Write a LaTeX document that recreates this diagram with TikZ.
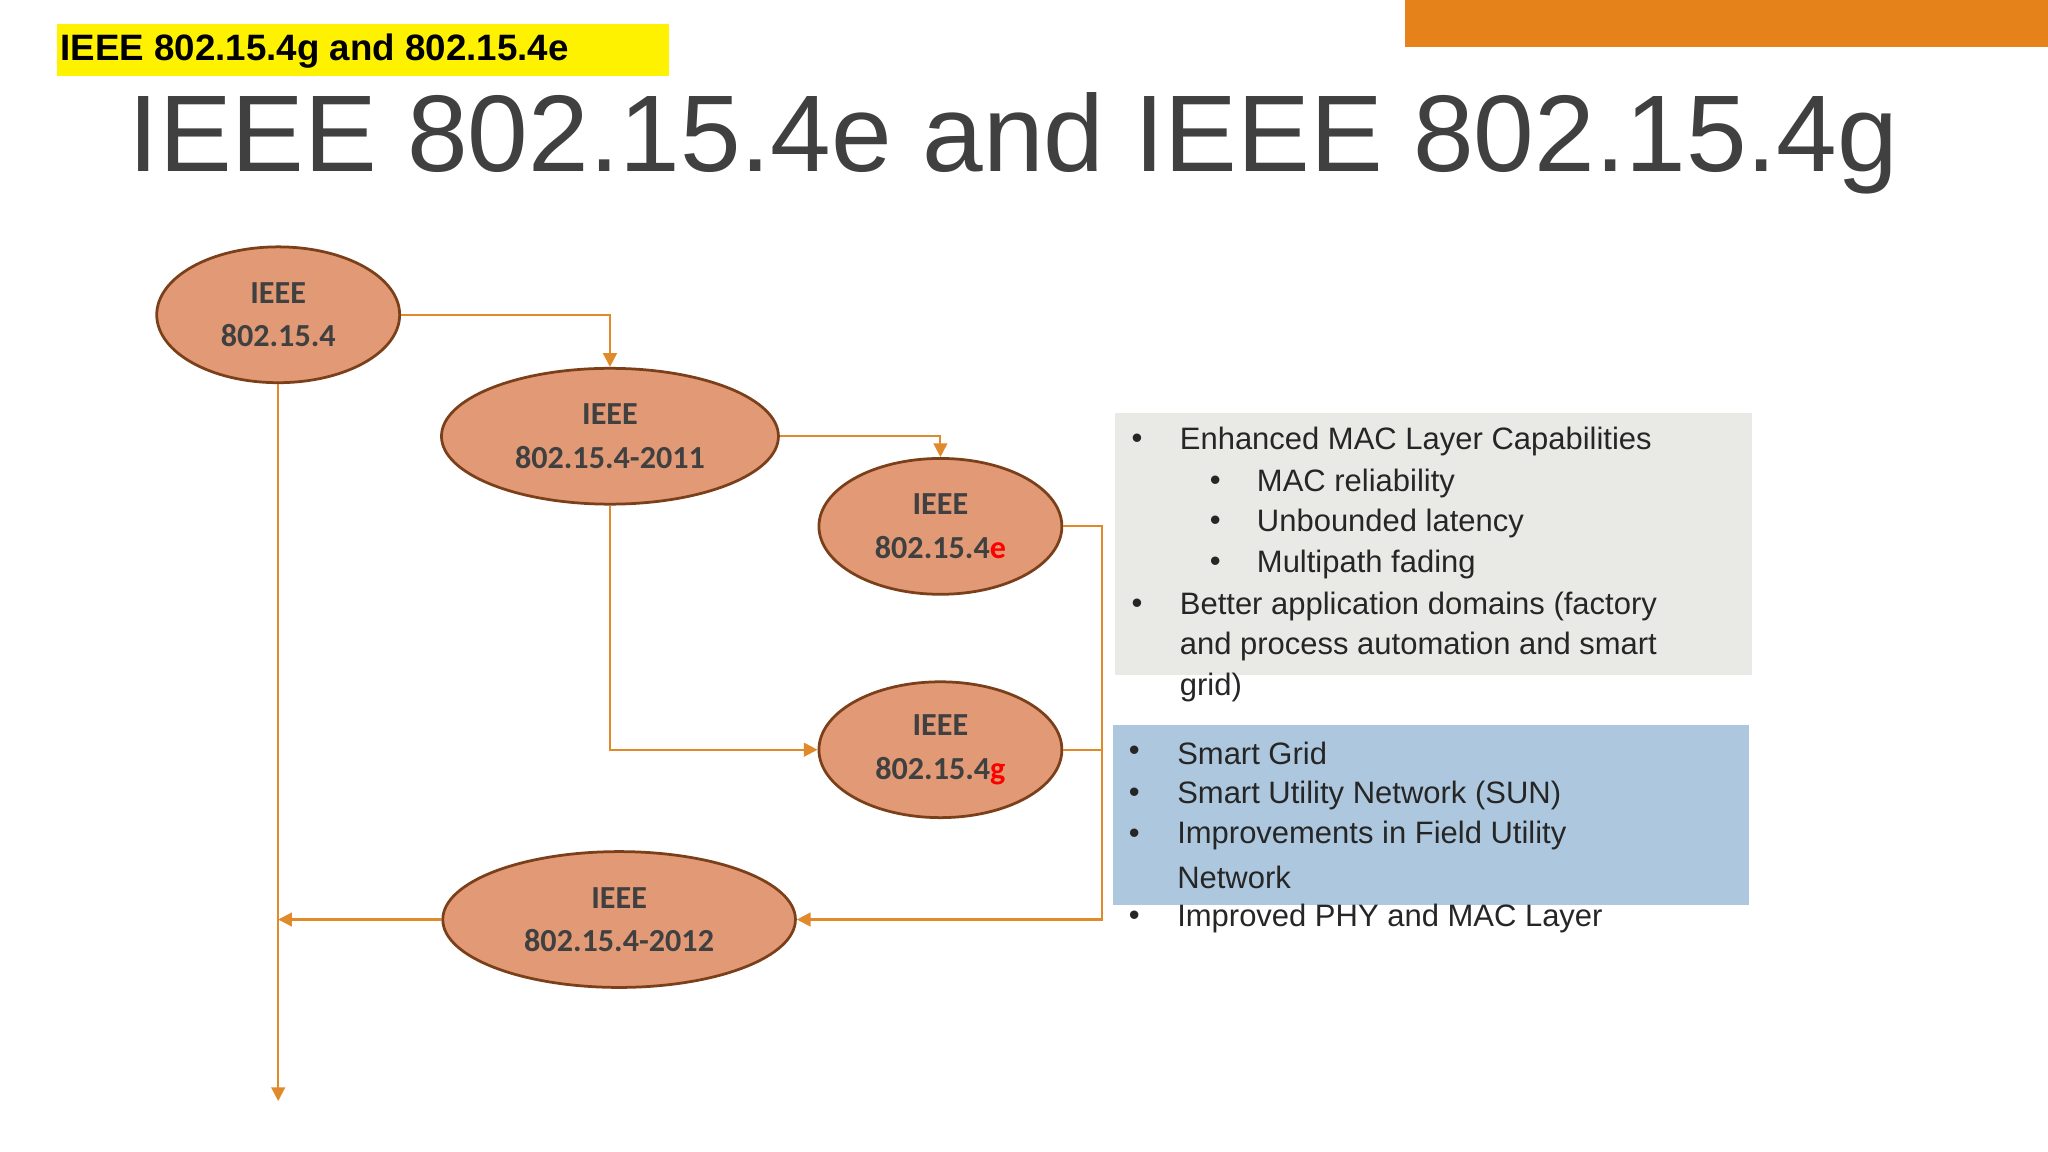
\documentclass[tikz,border=0pt]{standalone}
\usepackage{fontspec}
\setmainfont{Liberation Sans}
\newfontfamily\carl{Carlito}
\usetikzlibrary{shapes.geometric,arrows.meta}
\definecolor{salmon}{HTML}{E29A76}
\definecolor{brownb}{HTML}{7B3F1A}
\definecolor{lineor}{HTML}{E08A2B}
\definecolor{baror}{HTML}{E6821A}
\definecolor{txtg}{HTML}{404040}
\definecolor{boxg}{HTML}{E9EAE6}
\definecolor{boxb}{HTML}{ADC8DE}
\tikzset{
 ell/.style={ellipse,draw=brownb,line width=1.2pt,fill=salmon,inner sep=0pt,font=\carl\bfseries\fontsize{14}{19}\selectfont,text=txtg,align=center},
 con/.style={draw=lineor,line width=0.9pt},
 arr/.style={con,-{Triangle[length=6pt,width=6pt]}},
 bt/.style={anchor=west,inner sep=0pt,font=\fontsize{13.5}{16}\selectfont,text=black!85}
}
\begin{document}
\begin{tikzpicture}[x=0.02cm,y=-0.02cm]
\useasboundingbox (0,0) rectangle (1568,882);
\fill[white] (0,0) rectangle (1568,882);
\fill[baror] (1076,0) rectangle (1568,36);
\fill[yellow] (44,18) rectangle (512,58);
\node[anchor=west,inner sep=0pt,font=\bfseries\fontsize{16}{18}\selectfont] (hl) at (46,39) {IEEE 802.15.4g and 802.15.4e};
\node[inner sep=0pt,font=\fontsize{47.5}{50}\selectfont,text=txtg] (title) at (776,110) {IEEE 802.15.4e and IEEE 802.15.4g};
\node[ell,minimum width=186*0.02cm,minimum height=104*0.02cm] (A) at (213,241) {IEEE\\802.15.4};
\node[ell,minimum width=258*0.02cm,minimum height=104*0.02cm] (B) at (467,334) {IEEE\\802.15.4-2011};
\node[ell,minimum width=186*0.02cm,minimum height=104*0.02cm] (E) at (720,403) {IEEE\\802.15.4\textcolor{red}{e}};
\node[ell,minimum width=186*0.02cm,minimum height=104*0.02cm] (G) at (720,574) {IEEE\\802.15.4\textcolor{red}{g}};
\node[ell,minimum width=270*0.02cm,minimum height=104*0.02cm] (C) at (474,704) {IEEE\\802.15.4-2012};
\coordinate (end) at (213,843);
\draw[arr] (A.east) -| (B.north);
\draw[arr] (B.east) -| (E.north);
\draw[arr] (B.south) |- (G.west);
\draw[arr] (E.east) -- (844,403) -- (844,704) -- (C.east);
\draw[con] (G.east) -- (844,574);
\draw[arr] (A.south) -- (end);
\draw[arr] (C.west) -- (213,704);
\fill[boxg] (854,316) rectangle (1341,517);
\fill[boxb] (852,555) rectangle (1339,693);
\foreach \y/\t in {338/Enhanced MAC Layer Capabilities,464/Better application domains (factory}{\node[bt] at (866,\y) {•}; \node[bt] at (903,\y) {\t};}
\node[bt] at (903,495) {and process automation and smart};
\node[bt] at (903,526) {grid)};
\foreach \y/\t in {370/MAC reliability,401/Unbounded latency,432/Multipath fading}{\node[bt] at (926,\y) {•}; \node[bt] at (962,\y) {\t};}
\foreach \y/\t in {577/Smart Grid,609/Smart Utility Network (SUN),640/Improvements in Field Utility,703/Improved PHY and MAC Layer}{\node[bt] at (864,\y) {•}; \node[bt] at (901,\y) {\t};}
\node[bt] at (901,672) {Network};
\end{tikzpicture}
\end{document}
